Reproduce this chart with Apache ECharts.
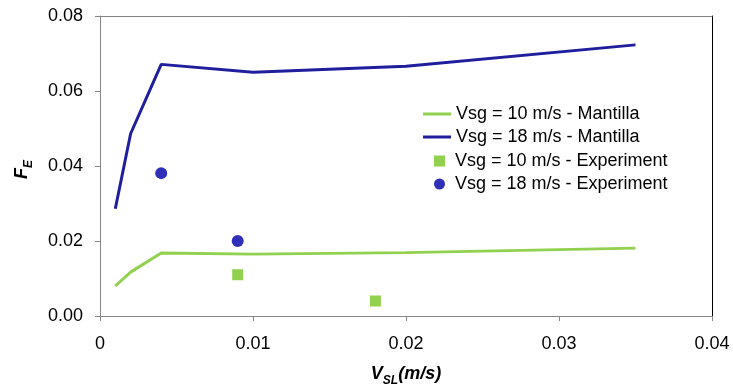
<!DOCTYPE html>
<html>
<head>
<meta charset="utf-8">
<script src="https://cdn.jsdelivr.net/npm/echarts@6/dist/echarts.min.js"></script>
<style>
  html, body { margin: 0; padding: 0; background: #fff; }
  #chart { width: 733px; height: 384px; }
</style>
</head>
<body>
<div id="chart"></div>
<script>
// Mantilla model curves: superficial liquid velocity vs entrained fraction
const vslModel = [0.001, 0.002, 0.004, 0.010, 0.020, 0.035];
const feModel10 = [0.0080, 0.0117, 0.0168, 0.0165, 0.0169, 0.0181];
const feModel18 = [0.0286, 0.0486, 0.0671, 0.0650, 0.0666, 0.0723];

// Measured points
const vslExp10 = [0.009, 0.018];
const feExp10 = [0.0110, 0.0040];
const vslExp18 = [0.004, 0.009];
const feExp18 = [0.0381, 0.0200];

// Axis ticks
const xTicks = ['0', '0.01', '0.02', '0.03', '0.04'];
const yTicks = ['0.00', '0.02', '0.04', '0.06', '0.08'];

const seriesNames = [
  'Vsg = 10 m/s - Mantilla',
  'Vsg = 18 m/s - Mantilla',
  'Vsg = 10 m/s - Experiment',
  'Vsg = 18 m/s - Experiment'
];

const GREEN = '#92d050';
const BLUE_LINE = '#1f1f9e';
const BLUE_DOT = '#2f2fb8';
const AXIS_GRAY = '#868686';
const FONT = 'Liberation Sans, Arial, sans-serif';

const zip = (xs, ys) => xs.map((x, i) => [x, ys[i]]);

const chart = echarts.init(document.getElementById('chart'), null, { renderer: 'canvas' });

const legendText = { fontFamily: FONT, fontSize: 18, color: '#000', lineHeight: 18 };

chart.setOption({
  animation: false,
  backgroundColor: '#fff',
  grid: { left: 100, right: 21, top: 16, bottom: 68, containLabel: false, outerBoundsMode: 'none' },
  legend: [
    {
      // model curves: plain line swatches
      data: [seriesNames[0], seriesNames[1]],
      icon: 'rect',
      orient: 'vertical', left: 423, top: 105, padding: 0,
      itemWidth: 28, itemHeight: 3, itemGap: 5,
      textStyle: legendText
    },
    {
      data: [seriesNames[2], seriesNames[3]],
      orient: 'vertical', left: 434, top: 152, padding: 0,
      itemWidth: 11, itemHeight: 11, itemGap: 5,
      textStyle: Object.assign({}, legendText, { padding: [0, 0, 0, 5] })
    }
  ],
  xAxis: [
    {
      type: 'value', min: 0, max: 0.04, interval: 0.01,
      name: '{v|V}{s|SL}{v|(m/s)}',
      nameLocation: 'middle', nameGap: 47,
      nameTextStyle: {
        rich: {
          v: { fontFamily: FONT, fontSize: 18, fontWeight: 'bold', fontStyle: 'italic', color: '#000', lineHeight: 20, verticalAlign: 'bottom' },
          s: { fontFamily: FONT, fontSize: 12, fontWeight: 'bold', fontStyle: 'italic', color: '#000', lineHeight: 12, verticalAlign: 'bottom', padding: [0, 0, -4, 0] }
        }
      },
      axisLine: { show: true, onZero: false, lineStyle: { color: AXIS_GRAY, width: 1 } },
      axisTick: { show: true, length: 5, lineStyle: { color: AXIS_GRAY } },
      axisLabel: {
        margin: 19, fontFamily: FONT, fontSize: 18, color: '#000',
        formatter: v => xTicks[Math.round(v / 0.01)]
      },
      splitLine: { show: false }
    },
    {
      type: 'value', position: 'top', min: 0, max: 0.04,
      axisLine: { show: true, onZero: false, lineStyle: { color: AXIS_GRAY, width: 1 } },
      axisTick: { show: false }, axisLabel: { show: false }, splitLine: { show: false }
    }
  ],
  yAxis: [
    {
      type: 'value', min: 0, max: 0.08, interval: 0.02,
      name: '{f|F}{s|E}',
      nameLocation: 'middle', nameGap: 69,
      nameTextStyle: {
        padding: [0, 7, 0, 0],
        rich: {
          f: { fontFamily: FONT, fontSize: 18, fontWeight: 'bold', fontStyle: 'italic', color: '#000', lineHeight: 20, verticalAlign: 'bottom' },
          s: { fontFamily: FONT, fontSize: 12, fontWeight: 'bold', fontStyle: 'italic', color: '#000', lineHeight: 12, verticalAlign: 'bottom', padding: [0, 0, -4, 0] }
        }
      },
      axisLine: { show: true, onZero: false, lineStyle: { color: AXIS_GRAY, width: 1 } },
      axisTick: { show: true, length: 5, lineStyle: { color: AXIS_GRAY } },
      axisLabel: {
        margin: 17, fontFamily: FONT, fontSize: 18, color: '#000',
        formatter: v => yTicks[Math.round(v / 0.02)]
      },
      splitLine: { show: false }
    },
    {
      type: 'value', position: 'right', min: 0, max: 0.08,
      axisLine: { show: true, onZero: false, lineStyle: { color: '#000', width: 1 } },
      axisTick: { show: false }, axisLabel: { show: false }, splitLine: { show: false }
    }
  ],
  series: [
    {
      name: seriesNames[0], type: 'line', data: zip(vslModel, feModel10),
      symbol: 'none', lineStyle: { color: GREEN, width: 3 }, itemStyle: { color: GREEN }, z: 3
    },
    {
      name: seriesNames[1], type: 'line', data: zip(vslModel, feModel18),
      symbol: 'none', lineStyle: { color: BLUE_LINE, width: 3 }, itemStyle: { color: BLUE_LINE }, z: 3
    },
    {
      name: seriesNames[2], type: 'scatter', data: zip(vslExp10, feExp10),
      symbol: 'rect', symbolSize: 11, itemStyle: { color: GREEN, opacity: 1 }, z: 4
    },
    {
      name: seriesNames[3], type: 'scatter', data: zip(vslExp18, feExp18),
      symbol: 'circle', symbolSize: 12, itemStyle: { color: BLUE_DOT, opacity: 1 }, z: 4
    }
  ]
});
</script>
</body>
</html>
